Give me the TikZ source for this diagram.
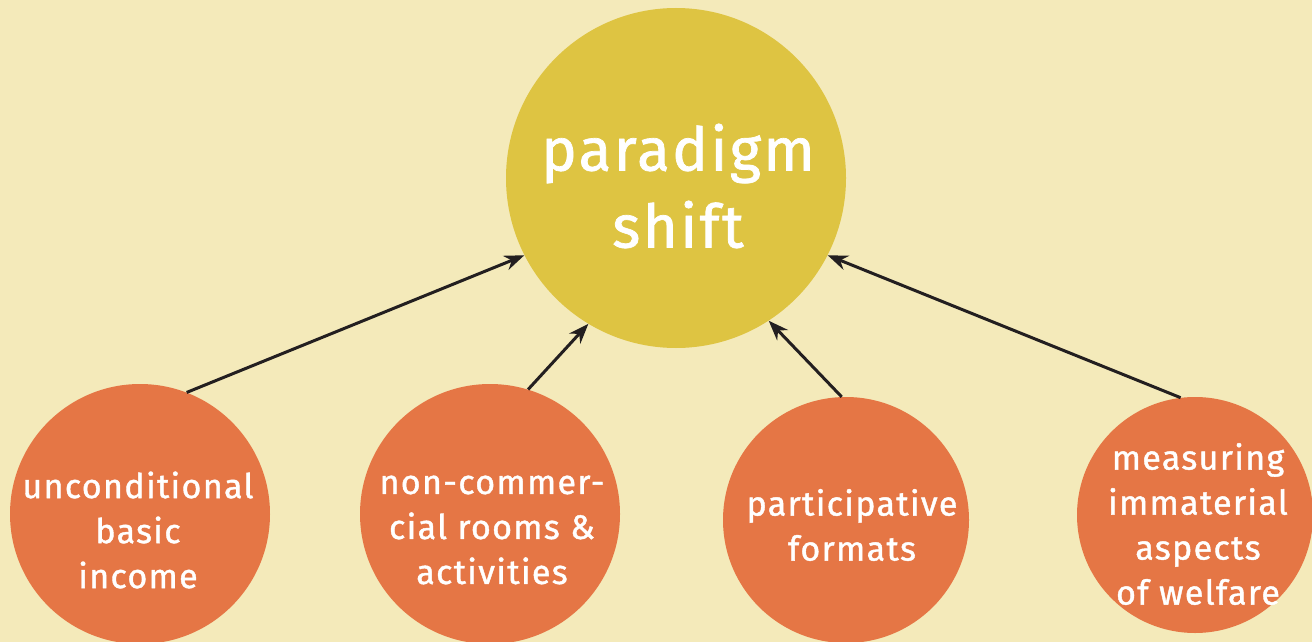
\documentclass[tikz,border=0pt]{standalone}
\usepackage{fontspec}
\setmainfont{Fira Sans}[FakeBold=1.2,LetterSpace=4]
\usetikzlibrary{arrows.meta}
\definecolor{bgc}{HTML}{F4EABA}
\definecolor{bigc}{HTML}{DEC442}
\definecolor{orc}{HTML}{E57645}
\definecolor{arc}{HTML}{231F20}
\tikzset{
  bigcirc/.style={circle, fill=bigc, inner sep=0pt, minimum size=340pt},
  smallcirc/.style={circle, fill=orc, inner sep=0pt},
  bigtext/.style={text=white, align=center, font=\fontsize{60}{77}\selectfont},
  smalltext/.style={text=white, align=center, font=\fontsize{34}{45}\selectfont},
  conn/.style={draw=arc, line width=3pt, -{Stealth[length=20pt,width=15pt]}}
}
\begin{document}
\begin{tikzpicture}[x=1pt,y=-1pt]
\fill[bgc] (0,0) rectangle (1312,642);
\useasboundingbox (0,0) rectangle (1312,642);
\node[bigcirc] (P) at (676,178) {};
\node[smallcirc, minimum size=260pt] (A) at (140,514) {};
\node[smallcirc, minimum size=260pt] (B) at (490,514) {};
\node[smallcirc, minimum size=246pt] (C) at (846,520) {};
\node[smallcirc, minimum size=236pt] (D) at (1195,515) {};
\node[bigtext] (Pt) at (678,186) {paradigm\\shift};
\node[smalltext] (At) at (138,530) {unconditional\\basic\\income};
\node[smalltext] (Bt) at (492,530) {non-commer-\\cial rooms \&\\activities};
\node[smalltext] (Ct) at (852,525) {participative\\formats};
\node[smalltext] (Dt) at (1198,524) {measuring\\immaterial\\aspects\\of welfare};
\draw[conn] (A.69) -- (P.207.3);
\draw[conn] (B.73.5) -- (P.239);
\draw[conn] (C.92.8) -- (P.303);
\draw[conn] (D.97) -- (P.333.3);
\end{tikzpicture}
\end{document}
